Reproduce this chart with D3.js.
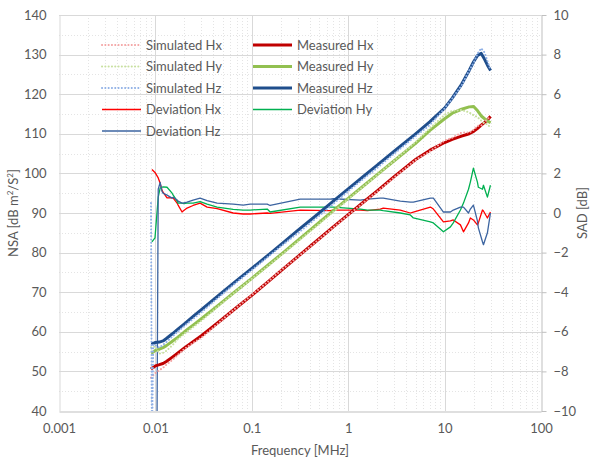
<!DOCTYPE html>
<html>
<head>
<meta charset="utf-8">
<script src="https://cdn.jsdelivr.net/npm/d3@7"></script>
<style>
  body { margin: 0; background: #fff; }
  svg text { font-family: Lato, "Open Sans", sans-serif; fill: #595959; }
</style>
</head>
<body>
<div id="chart"></div>
<script>
// chart data
let freq = [0.009, 0.0092, 0.0095, 0.01, 0.011, 0.012, 0.013, 0.015, 0.017, 0.02, 0.025, 0.03, 0.04, 0.05, 0.07,
  0.1, 0.15, 0.2, 0.3, 0.5, 0.7, 1, 1.5, 2, 3, 5, 7, 10, 12, 15, 18, 20, 22, 24, 26, 28, 30];

let measuredHx = [50.6, 50.8, 51.0, 51.4, 51.7, 52.0, 52.5, 53.6, 54.6, 55.9, 57.6, 59.0, 61.4, 63.3, 66.2,
  69.2, 72.8, 75.4, 79.0, 83.5, 86.5, 89.6, 93.1, 95.6, 99.2, 103.5, 105.8, 107.8, 108.6, 109.4, 110.0, 110.6, 111.4, 112.2, 112.9, 113.6, 114.4];
let measuredHy = [54.6, 54.7, 54.9, 55.3, 55.6, 56.0, 56.5, 57.6, 58.6, 60.0, 61.8, 63.3, 65.7, 67.6, 70.5,
  73.5, 77.0, 79.5, 83.1, 87.6, 90.6, 93.7, 97.2, 99.7, 103.2, 107.6, 110.8, 113.8, 115.2, 116.2, 116.8, 116.9, 115.8, 114.5, 113.8, 113.2, 112.8];
let measuredHz = [57.0, 57.0, 57.1, 57.3, 57.4, 57.7, 58.3, 59.5, 60.6, 62.0, 64.0, 65.6, 68.1, 70.1, 73.0,
  76.0, 79.5, 82.0, 85.6, 90.0, 93.0, 96.1, 99.6, 102.1, 105.6, 110.0, 113.0, 116.5, 119.0, 122.5, 126.0, 128.2, 129.8, 130.3, 128.8, 127.2, 126.0];

let simulatedHx = [48.4, 48.7, 49.0, 49.6, 50.3, 50.9, 51.7, 52.9, 54.1, 55.7, 57.3, 58.5, 61.1, 63.2, 66.2,
  69.3, 72.8, 75.5, 78.9, 83.4, 86.4, 89.5, 93.0, 95.4, 99.0, 103.4, 105.5, 108.3, 109.0, 110.3, 110.3, 111.0, 112.0, 112.1, 113.0, 113.8, 114.4];
let simulatedHy = [56.1, 56.1, 56.2, 56.3, 54.5, 54.7, 55.2, 56.6, 58.1, 59.5, 61.3, 62.8, 65.4, 67.4, 70.4,
  73.4, 76.8, 79.3, 82.8, 87.3, 90.3, 93.5, 97.1, 99.6, 103.2, 107.9, 111.3, 114.8, 115.8, 116.0, 115.4, 114.7, 114.2, 113.3, 112.6, 112.4, 111.4];
let simulatedHz = [92.5, 30.0, 56.8, 56.6, 56.0, 56.7, 57.4, 58.8, 60.0, 61.5, 63.4, 64.9, 67.6, 69.6, 72.6,
  75.6, 79.1, 81.6, 84.9, 89.3, 92.3, 95.5, 99.0, 101.4, 105.0, 109.4, 112.2, 116.4, 118.9, 122.2, 126.0, 127.9, 130.3, 131.6, 130.5, 128.2, 126.0];

let devFreq = [0.0092, 0.0099, 0.0107, 0.0112, 0.0117, 0.012, 0.0132, 0.0149, 0.0153, 0.0168, 0.0172, 0.0189, 0.0194,
  0.0213, 0.0246, 0.0291, 0.0344, 0.0437, 0.0641, 0.0814, 0.0962, 0.1445, 0.155, 0.318, 0.652, 0.7, 1.336, 1.58,
  2.15, 2.31, 3.47, 4.41, 4.74, 7.12, 7.65, 9.72, 11.5, 12.3, 14.6, 15.7, 17.7, 18.5, 19.9, 21.9, 22.4, 24.7, 25.3, 27.8, 29.9];

let deviationHx = [2.2, 2.05, 1.77, 1.5, 1.16, 1.05, 0.76, 0.78, 0.75, 0.5, 0.4, 0.05, 0.1,
  0.25, 0.38, 0.5, 0.3, 0.22, 0.0, -0.05, -0.05, 0.0, -0.02, 0.15, 0.12, 0.15, 0.15, 0.12,
  0.2, 0.25, 0.15, 0.0, 0.05, 0.3, 0.2, -0.45, -0.4, -0.35, -0.6, -0.95, -0.5, -0.25, -0.35, -0.6, -0.5, 0.15, 0.1, -0.25, 0.05];
let deviationHy = [-1.46, -1.26, 0.8, 1.26, 1.3, 1.32, 1.3, 1.0, 0.9, 0.6, 0.5, 0.5, 0.48,
  0.5, 0.5, 0.58, 0.45, 0.3, 0.18, 0.15, 0.15, 0.2, 0.05, 0.3, 0.3, 0.3, 0.2, 0.15,
  0.15, 0.12, 0.0, -0.1, -0.25, -0.45, -0.5, -0.95, -0.7, -0.5, 0.15, 0.5, 1.2, 1.56, 2.27, 1.56, 1.3, 1.2, 1.4, 0.8, 1.4];
let deviationHz = [-30, -30, 1.2, 1.55, 1.1, 1.0, 0.9, 0.75, 0.8, 0.66, 0.6, 0.5, 0.5,
  0.55, 0.65, 0.75, 0.62, 0.5, 0.45, 0.4, 0.45, 0.45, 0.38, 0.7, 0.7, 0.72, 0.65, 0.7,
  0.75, 0.75, 0.6, 0.55, 0.55, 0.75, 0.75, 0.05, 0.05, 0.15, 0.3, 0.3, 0.0, 0.2, 0.4, -0.4, -0.75, -1.45, -1.6, -1.0, 0.0];

let xTicks = [0.001, 0.01, 0.1, 1, 10, 100];
let xTickLabels = ["0.001", "0.01", "0.1", "1", "10", "100"];
let leftTicks = [40, 50, 60, 70, 80, 90, 100, 110, 120, 130, 140];
let rightTicks = [-10, -8, -6, -4, -2, 0, 2, 4, 6, 8, 10];

let w = 591, h = 458;
let padLeft = 59, padRight = 541, padTop = 15, padBottom = 411;

let svg = d3.select("#chart").append("svg")
    .attr("width", w)
    .attr("height", h);

let x = d3.scaleLog().domain([0.001, 100]).range([padLeft, padRight]);
let yL = d3.scaleLinear().domain([40, 140]).range([padBottom, padTop]);
let yR = d3.scaleLinear().domain([-10, 10]).range([padBottom, padTop]);

// gridlines, minor dotted first then major
let grid = svg.append("g");
grid.selectAll(".vminor").data(x.ticks().filter(t => xTicks.indexOf(t) < 0)).enter()
  .append("line")
    .attr("x1", d => Math.round(x(d)) + 0.5).attr("x2", d => Math.round(x(d)) + 0.5)
    .attr("y1", padTop).attr("y2", padBottom)
    .attr("stroke", "#e4e4e4").attr("stroke-dasharray", "1,2");
grid.selectAll(".hminor").data(yL.ticks(20).filter(t => t % 10 != 0)).enter()
  .append("line")
    .attr("x1", padLeft).attr("x2", padRight)
    .attr("y1", d => Math.round(yL(d)) + 0.5).attr("y2", d => Math.round(yL(d)) + 0.5)
    .attr("stroke", "#e4e4e4").attr("stroke-dasharray", "1,2");
grid.selectAll(".vmajor").data(xTicks.slice(1, -1)).enter()
  .append("line")
    .attr("x1", d => Math.round(x(d)) + 0.5).attr("x2", d => Math.round(x(d)) + 0.5)
    .attr("y1", padTop).attr("y2", padBottom)
    .attr("stroke", "#d9d9d9");
grid.selectAll(".hmajor").data(leftTicks.slice(1)).enter()
  .append("line")
    .attr("x1", padLeft).attr("x2", padRight)
    .attr("y1", d => Math.round(yL(d)) + 0.5).attr("y2", d => Math.round(yL(d)) + 0.5)
    .attr("stroke", "#d9d9d9");

// axes
let xAxis = d3.axisBottom(x).tickValues(xTicks)
  .tickFormat((d, i) => xTickLabels[i]).tickSize(0).tickPadding(12);
let xAxisGroup = svg.append("g").attr("transform", "translate(0," + (padBottom + 0.5) + ")").call(xAxis);
xAxisGroup.select(".domain").attr("stroke", "#bfbfbf");

let yAxisL = d3.axisLeft(yL).tickValues(leftTicks).tickSize(0).tickPadding(13).tickSizeOuter(0);
let yAxisLGroup = svg.append("g").attr("transform", "translate(" + (padLeft + 0.5) + ",0)").call(yAxisL);
yAxisLGroup.select(".domain").attr("stroke", "#d9d9d9");

let yAxisR = d3.axisRight(yR).tickValues(rightTicks).tickSize(5).tickPadding(7).tickSizeOuter(0);
let yAxisRGroup = svg.append("g").attr("transform", "translate(" + (padRight + 0.5) + ",0)").call(yAxisR);
yAxisRGroup.select(".domain").attr("stroke", "#bfbfbf");
yAxisRGroup.selectAll(".tick line").attr("stroke", "#bfbfbf");

svg.selectAll(".tick text").attr("font-size", 13).attr("fill", "#595959")
  .style("font-family", "Lato, 'Open Sans', sans-serif");

// axis titles
svg.append("text")
  .attr("x", (padLeft + padRight) / 2).attr("y", 455)
  .attr("text-anchor", "middle").attr("font-size", 13)
  .text("Frequency [MHz]");

let nsa = svg.append("text")
  .attr("transform", "translate(18," + ((padTop + padBottom) / 2) + ") rotate(-90)")
  .attr("text-anchor", "middle").attr("font-size", 13);
nsa.append("tspan").text("NSA [dB m");
nsa.append("tspan").attr("baseline-shift", "super").attr("font-size", 8).text("2");
nsa.append("tspan").text("/S");
nsa.append("tspan").attr("baseline-shift", "super").attr("font-size", 8).text("2");
nsa.append("tspan").text("]");

svg.append("text")
  .attr("transform", "translate(587," + ((padTop + padBottom) / 2) + ") rotate(-90)")
  .attr("text-anchor", "middle").attr("font-size", 13)
  .text("SAD [dB]");

// data lines
svg.append("clipPath").attr("id", "plotclip")
  .append("rect").attr("x", padLeft).attr("y", padTop)
  .attr("width", padRight - padLeft).attr("height", padBottom - padTop);
let plot = svg.append("g").attr("clip-path", "url(#plotclip)");

let lineL = d3.line().x(d => x(d[0])).y(d => yL(d[1]));
let lineR = d3.line().x(d => x(d[0])).y(d => yR(d[1]));

let series = [
  { name: "Deviation Hx", f: devFreq, v: deviationHx, axis: "R", color: "#ff0000", width: 1.3, dash: null },
  { name: "Deviation Hy", f: devFreq, v: deviationHy, axis: "R", color: "#00b050", width: 1.3, dash: null },
  { name: "Deviation Hz", f: devFreq, v: deviationHz, axis: "R", color: "#3c64a0", width: 1.3, dash: null },
  { name: "Measured Hx", f: freq, v: measuredHx, axis: "L", color: "#c00000", width: 3, dash: null },
  { name: "Measured Hy", f: freq, v: measuredHy, axis: "L", color: "#92c050", width: 3, dash: null },
  { name: "Measured Hz", f: freq, v: measuredHz, axis: "L", color: "#1f4e8c", width: 3, dash: null },
  { name: "Simulated Hx", f: freq, v: simulatedHx, axis: "L", color: "#f4a4a4", width: 2, dash: "0.1,3.2" },
  { name: "Simulated Hy", f: freq, v: simulatedHy, axis: "L", color: "#c8e0a0", width: 2, dash: "0.1,3.2" },
  { name: "Simulated Hz", f: freq, v: simulatedHz, axis: "L", color: "#8fb0e6", width: 2, dash: "0.1,3.2" }
];

series.forEach(function(s) {
  plot.append("path")
    .datum(d3.zip(s.f, s.v))
    .attr("fill", "none")
    .attr("stroke", s.color)
    .attr("stroke-width", s.width)
    .attr("stroke-linecap", s.dash ? "round" : "butt")
    .attr("stroke-linejoin", "round")
    .attr("stroke-dasharray", s.dash)
    .attr("d", s.axis == "L" ? lineL : lineR);
});

// legend
let legendOrder = ["Simulated Hx", "Measured Hx", "Simulated Hy", "Measured Hy",
  "Simulated Hz", "Measured Hz", "Deviation Hx", "Deviation Hy", "Deviation Hz"];
let legend = svg.append("g");
legendOrder.forEach(function(name, i) {
  let s = series.find(d => d.name == name);
  let col = i % 2, row = Math.floor(i / 2);
  let lx = col == 0 ? 102 : 253;
  let ly = 45 + row * 21.5;
  legend.append("line")
    .attr("x1", lx).attr("x2", lx + 39)
    .attr("y1", ly).attr("y2", ly)
    .attr("stroke", s.color)
    .attr("stroke-width", s.width)
    .attr("stroke-linecap", s.dash ? "round" : "butt")
    .attr("stroke-dasharray", s.dash);
  legend.append("text")
    .attr("x", lx + 44).attr("y", ly + 4.5)
    .attr("font-size", 13)
    .text(name);
});
</script>
</body>
</html>
